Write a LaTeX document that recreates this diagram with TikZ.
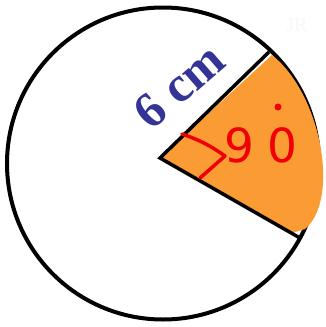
\documentclass[tikz,border=0pt]{standalone}
\usepackage{fontspec}
\setmainfont{Liberation Serif}
\newfontfamily\handfont{DejaVu Sans}
\usetikzlibrary{calc}
\definecolor{sectorfill}{RGB}{250,155,52}
\definecolor{labelblue}{RGB}{52,52,150}
\definecolor{markred}{RGB}{240,0,0}

\begin{document}
\begin{tikzpicture}[
    x=1pt, y=-1pt,
    rim/.style={draw=black, line width=4pt},
    radiusline/.style={draw=black, line width=3.5pt, line join=miter},
    lenlabel/.style={font=\fontsize{50}{50}\selectfont\bfseries, text=labelblue, rotate=41, inner sep=0pt},
    anglemark/.style={draw=markred, line width=3.5pt, line cap=round, line join=round},
    anglelabel/.style={font=\handfont\fontsize{47}{47}\selectfont, text=markred, inner sep=0pt},
    watermark/.style={font=\fontsize{20}{20}\selectfont, text=black!3}
]
\useasboundingbox (0,0) rectangle (325,327);

% ==================== CIRCLE ====================
\coordinate (C) at (163,163.5);
\draw[rim] (C) circle[radius=156];

% ==================== SECTOR ====================
\coordinate (O) at (160,158);
\coordinate (A) at (269,52);
\coordinate (B) at (300,238);
\fill[sectorfill] (O) -- (272,55) .. controls (322,95) and (340,200) .. (305,229) -- (292,233) -- cycle;
\draw[radiusline] (A) -- (O) -- (B);

% ==================== LABELS ====================
\node[lenlabel] (len) at (179,86) {6 cm};
\draw[anglemark] (182,134) to[bend left=8] (225,156) -- (200,178);
\node[anglelabel] (deg) at (261,145) {9\kern13pt0};
\fill[markred] (278,107) circle[radius=3.5];
\node[watermark] (wm) at (297,25) {JR};

\end{tikzpicture}
\end{document}
